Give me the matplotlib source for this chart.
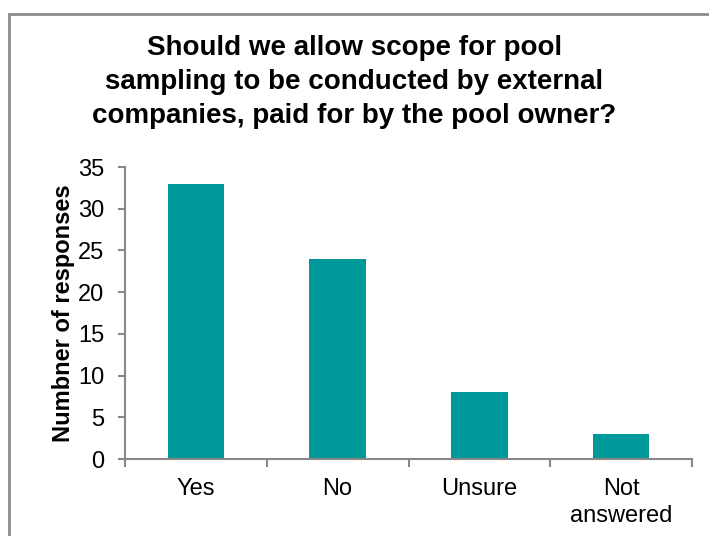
import matplotlib.pyplot as plt
from matplotlib.patches import Rectangle

categories = ["Yes", "No", "Unsure", "Not\nanswered"]
responses = [33, 24, 8, 3]

plt.rcParams["font.family"] = ["Liberation Sans", "DejaVu Sans"]

W, H = 709, 536
fig = plt.figure(figsize=(W / 100, H / 100), dpi=100)
ax = fig.add_axes([125 / W, 1 - 459 / H, (692 - 125) / W, (459 - 167) / H])

x = range(len(categories))
ax.bar(x, responses, width=0.40, color="#009999")

ax.set_xlim(-0.5, len(categories) - 0.5)
ax.set_ylim(0, 35)
ax.set_yticks(range(0, 36, 5))
ax.set_xticks(list(x))
ax.set_xticklabels(categories, fontsize=17, linespacing=1.25)
ax.tick_params(axis="y", labelsize=17, length=5, color="#888888", width=1.5, pad=10)
ax.tick_params(axis="x", length=0, pad=14)
# tick marks between the categories
ax.set_xticks([i - 0.5 for i in range(len(categories) + 1)], minor=True)
ax.tick_params(axis="x", which="minor", length=6, color="#888888", width=1.5)

for side in ["top", "right"]:
    ax.spines[side].set_visible(False)
for side in ["left", "bottom"]:
    ax.spines[side].set_color("#888888")
    ax.spines[side].set_linewidth(1.5)

ax.set_ylabel("Numbner of responses", fontsize=17, fontweight="bold", labelpad=2)

fig.text(0.5, 1 - 82 / H,
         "Should we allow scope for pool\nsampling to be conducted by external\ncompanies, paid for by the pool owner?",
         ha="center", va="center", fontsize=20, fontweight="bold", linespacing=1.4)

# outer frame
fig.patches.append(Rectangle((9 / W, -0.1), 1.2, 1 - 14 / H + 0.1,
                             transform=fig.transFigure, fill=False,
                             edgecolor="#8c8c8c", linewidth=2))

fig.savefig("out.png", dpi=100)
